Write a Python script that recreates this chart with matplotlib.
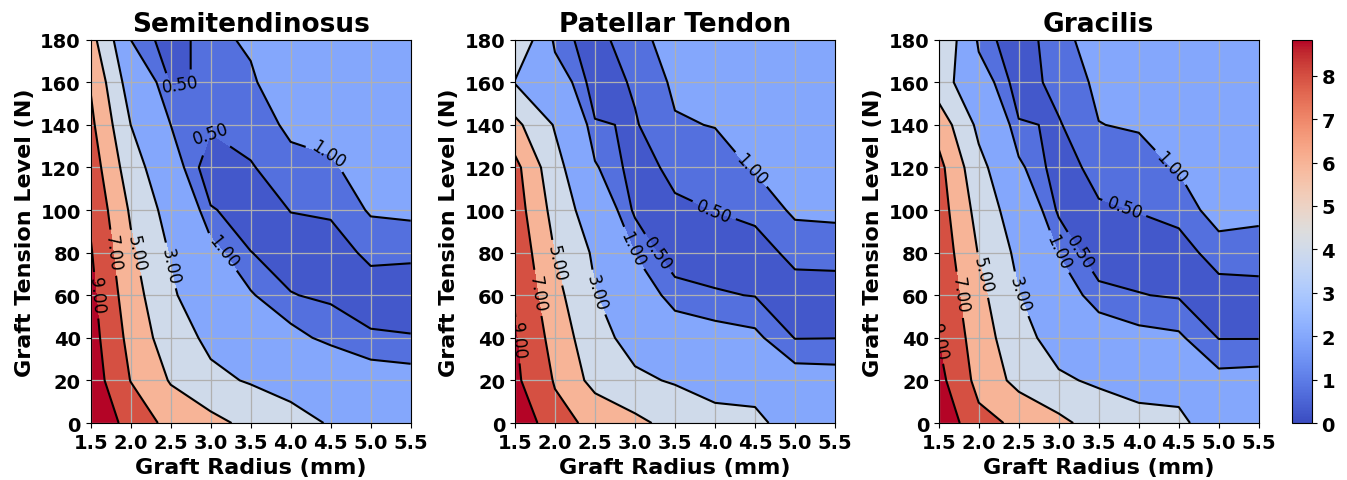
import matplotlib
matplotlib.use("Agg")
import matplotlib.pyplot as plt
import numpy as np
from matplotlib.colors import Normalize
from matplotlib.cm import ScalarMappable

# graft radius (mm) and tension (N) grid
radius = [1.5, 2.0, 2.5, 3.0, 3.5, 4.0, 4.5, 5.0, 5.5]
tension = [0, 20, 40, 60, 80, 100, 120, 140, 160, 180]

# values, one row per tension level
semitendinosus = [
    [10.4, 8.4, 6.34, 5.6, 4.45, 3.46, 2.9, 2.5, 2.2],
    [10.1, 6.95, 4.85, 3.4, 2.85, 2.53, 1.94, 1.42, 1.30],
    [9.8, 6.4, 3.9, 2.6, 1.8, 1.24, 0.8, 0.56, 0.53],
    [9.5, 5.9, 3.25, 1.8, 1.064, 0.52, 0.42, 0.28, 0.23],
    [9.15, 5.35, 2.85, 1.25, 0.51, 0.3, 0.3, 0.6, 0.59],
    [8.7, 4.75, 2.2, 0.55, 0.25, 0.512, 0.56, 1.07, 1.137],
    [8.1, 3.9, 1.45, 0.1, 0.45, 0.85, 0.9, 1.35, 1.4],
    [7.45, 3.0, 1.0, 0.6, 0.75, 1.1, 1.25, 1.6, 1.6],
    [6.85, 2.0, 0.45, 0.55, 0.9, 1.5, 1.55, 1.8, 1.8],
    [5.7, 1.0, 0.17, 0.83, 1.1, 1.7, 1.75, 1.95, 1.95],
]

patellar = [
    [10.8, 7.6, 6.57, 5.5, 4.3, 3.45, 3.3, 2.42, 2.1],
    [9.4, 6.85, 4.33, 3.3, 2.85, 2.5, 2.5, 1.35, 1.3],
    [9.15, 6.3, 3.6, 2.4, 1.35, 1.3, 1.15, 0.48, 0.49],
    [8.9, 5.6, 3.1, 1.39, 0.8, 0.55, 0.48, 0.3, 0.3],
    [8.5, 4.95, 2.7, 0.98, 0.1, 0.25, 0.3, 0.63, 0.65],
    [8.0, 4.3, 1.78, 0.39, 0.4, 0.51, 0.62, 1.11, 1.15],
    [7.6, 3.6, 1.08, 0.25, 0.65, 0.75, 1.05, 1.4, 1.4],
    [5.5, 2.85, 0.55, 0.45, 0.95, 1.02, 1.3, 1.6, 1.6],
    [2.9, 1.6, 0.2, 0.575, 1.1, 1.35, 1.5, 1.75, 1.75],
    [4.85, 0.75, 0.23, 0.94, 1.08, 1.5, 1.6, 1.85, 1.85],
]

gracilis = [
    [10.6, 7.55, 6.66, 5.5, 4.11, 3.45, 3.3, 2.23, 1.95],
    [9.6, 6.4, 4.4, 3.25, 2.75, 2.5, 2.5, 1.2, 1.25],
    [8.95, 6.05, 3.6, 2.3, 1.45, 1.2, 1.1, 0.48, 0.48],
    [8.6, 5.55, 3.05, 1.45, 0.7, 0.52, 0.45, 0.3, 0.3],
    [8.3, 4.9, 2.55, 0.97, 0.1, 0.25, 0.3, 0.7, 0.75],
    [7.95, 4.3, 1.85, 0.4, 0.42, 0.52, 0.65, 1.3, 1.15],
    [7.6, 3.55, 1.15, 0.2, 0.72, 0.78, 1.05, 1.45, 1.4],
    [6.2, 2.55, 0.55, 0.45, 0.99, 1.05, 1.3, 1.65, 1.6],
    [3.9, 1.5, 0.2, 0.7, 1.1, 1.35, 1.5, 1.8, 1.75],
    [4.8, 0.8, 0.12, 0.9, 1.15, 1.5, 1.6, 1.9, 1.85],
]

titles = ["Semitendinosus", "Patellar Tendon", "Gracilis"]
fill_levels = [0, 0.5, 1, 3, 5, 7, 9, 11]
line_levels = [0.5, 1, 3, 5, 7, 9]

# where the inline labels sit
label_spots = [
    [(1.575, 60), (1.8, 80), (2.08, 80), (2.51, 74), (3.14, 80), (4.49, 129), (2.62, 159), (2.93, 140)],
    [(1.56, 39), (1.77, 61), (2.0, 75), (2.5, 61), (2.98, 82), (3.3, 80), (3.98, 99), (4.49, 121)],
    [(1.54, 41), (1.725, 60), (2.0, 69), (2.475, 60), (2.975, 80), (3.25, 80), (3.81, 100), (4.43, 121)],
]

norm = Normalize(vmin=0, vmax=8.83)
X, Y = np.meshgrid(radius, tension)

fig = plt.figure(figsize=(13.47, 4.81), dpi=100)
lefts = [0.0673, 0.3823, 0.6969]

for left, data, title, spots in zip(lefts, [semitendinosus, patellar, gracilis], titles, label_spots):
    ax = fig.add_axes([left, 0.1185, 0.2376, 0.797])
    Z = np.array(data)
    ax.contourf(X, Y, Z, levels=fill_levels, cmap="coolwarm", norm=norm)
    cs = ax.contour(X, Y, Z, levels=line_levels, colors="black", linewidths=1.5)
    ax.clabel(cs, fmt="%.2f", fontsize=12, inline=True, manual=spots)
    ax.grid(True, color="#b0b0b0", linewidth=0.9)
    ax.set_xticks(radius)
    ax.set_yticks(tension)
    ax.set_xlim(1.5, 5.5)
    ax.set_ylim(0, 180)
    ax.set_title(title, fontsize=19, fontweight="bold")
    ax.set_xlabel("Graft Radius (mm)", fontsize=16, fontweight="bold")
    ax.set_ylabel("Graft Tension Level (N)", fontsize=16, fontweight="bold")
    ax.tick_params(labelsize=14)
    for lab in ax.get_xticklabels() + ax.get_yticklabels():
        lab.set_fontweight("bold")

cax = fig.add_axes([0.9594, 0.1185, 0.0144, 0.797])
sm = ScalarMappable(norm=norm, cmap="coolwarm")
cb = fig.colorbar(sm, cax=cax)
cb.set_ticks(range(0, 9))
cb.ax.tick_params(labelsize=14)
for lab in cb.ax.get_yticklabels():
    lab.set_fontweight("bold")

fig.savefig("out.png", dpi=100)
